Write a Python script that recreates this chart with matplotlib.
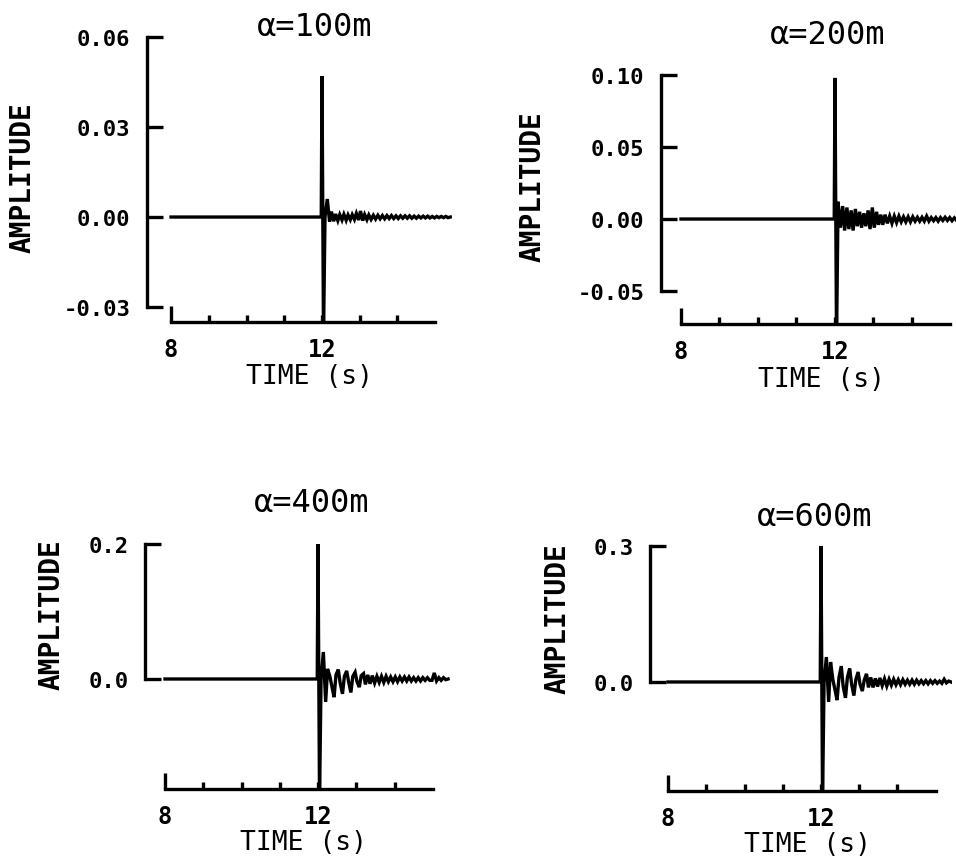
import matplotlib
matplotlib.use("Agg")
import matplotlib.pyplot as plt

# sample times shared by all four traces (s)
TIME = [8.00, 11.98, 12.00, 12.04, 12.08, 12.14, 12.20, 12.25, 12.31, 12.36,
        12.42, 12.47, 12.53, 12.58, 12.64, 12.69, 12.75, 12.80, 12.86, 12.91,
        12.97, 13.02, 13.08, 13.13, 13.19, 13.24, 13.30, 13.36, 13.42, 13.48,
        13.54, 13.60, 13.66, 13.72, 13.78, 13.84, 13.90, 13.96, 14.02, 14.08,
        14.14, 14.20, 14.26, 14.32, 14.38, 14.44, 14.50, 14.56, 14.62, 14.68,
        14.74, 14.80, 14.86, 14.92, 14.98, 15.04, 15.10, 15.16, 15.22, 15.28,
        15.34, 15.40]

AMP_100 = [0.0, 0.0, 0.047, -0.040, 0.0, 0.0060, -0.0015, 0.0018, -0.0014, 0.0010,
           -0.0012, 0.0008, -0.0010, 0.0009, -0.0011, 0.0007, -0.0009, 0.0008, -0.0008, 0.0012,
           -0.0010, 0.0020, -0.0012, 0.0008, -0.0009, 0.0007, -0.0008, 0.0006, -0.0007, 0.0006,
           -0.0006, 0.0005, -0.0006, 0.0005, -0.0005, 0.0005, -0.0005, 0.0004, -0.0005, 0.0004,
           -0.0004, 0.0004, -0.0004, 0.0004, -0.0004, 0.0003, -0.0004, 0.0003, -0.0003, 0.0003,
           -0.0003, 0.0003, -0.0003, 0.0002, -0.0003, 0.0002, -0.0002, 0.0002, -0.0002, 0.0002,
           -0.0002, 0.0]

AMP_200 = [0.0, 0.0, 0.098, -0.085, 0.012, -0.006, 0.009, -0.008, 0.008, -0.007,
           0.006, -0.008, 0.007, -0.005, 0.005, -0.006, 0.004, -0.005, 0.006, -0.007,
           0.008, -0.006, 0.005, -0.004, 0.003, -0.004, 0.003, -0.003, 0.002, -0.003,
           0.002, -0.0025, 0.002, -0.002, 0.0015, -0.002, 0.0015, -0.002, 0.0015, -0.0015,
           0.0012, -0.0015, 0.0012, -0.0015, 0.002, -0.0015, 0.001, -0.0012, 0.001, -0.0015,
           0.001, -0.001, 0.0012, -0.001, 0.001, -0.0012, 0.0008, -0.001, 0.002, -0.001,
           0.0008, -0.0005]

AMP_400 = [0.0, 0.0, 0.200, -0.180, 0.0, 0.040, -0.034, 0.015, 0.004, -0.010,
           -0.027, 0.006, 0.014, -0.006, -0.022, 0.004, 0.012, -0.004, -0.020, 0.004,
           0.010, -0.004, -0.012, 0.005, 0.008, -0.008, 0.006, -0.007, 0.005, -0.006,
           0.004, -0.005, 0.004, -0.005, 0.004, -0.004, 0.003, -0.004, 0.003, -0.004,
           0.003, -0.003, 0.003, -0.003, 0.003, -0.003, 0.002, -0.003, 0.002, -0.003,
           0.002, -0.002, 0.002, -0.002, -0.002, 0.009, -0.003, 0.002, -0.002, 0.002,
           -0.001, 0.0]

AMP_600 = [0.0, 0.0, 0.300, -0.260, 0.0, 0.055, -0.044, 0.044, 0.005, -0.015,
           -0.040, 0.010, 0.035, -0.010, -0.035, 0.010, 0.030, -0.005, -0.030, 0.005,
           0.022, -0.005, -0.020, 0.004, 0.018, -0.012, 0.010, -0.012, 0.008, -0.010,
           0.009, -0.008, 0.007, -0.009, 0.006, -0.007, 0.006, -0.006, 0.005, -0.006,
           0.005, -0.005, 0.004, -0.005, 0.004, -0.005, 0.004, -0.004, 0.003, -0.004,
           0.003, -0.004, 0.003, -0.003, 0.003, -0.003, 0.002, -0.003, 0.006, -0.002,
           0.002, 0.0]

TITLES = ["\u03b1=100m", "\u03b1=200m", "\u03b1=400m", "\u03b1=600m"]

YTICKS = [[-0.03, 0.0, 0.03, 0.06],
          [-0.05, 0.0, 0.05, 0.10],
          [0.0, 0.2],
          [0.0, 0.3]]
YTICK_LABELS = [["-0.03", "0.00", "0.03", "0.06"],
                ["-0.05", "0.00", "0.05", "0.10"],
                ["0.0", "0.2"],
                ["0.0", "0.3"]]
XTICKS_MAJOR = [8, 12]
XTICKS_MINOR = [9, 10, 11, 13, 14]
X_END = 15

W, H = 956, 862
MONO = "DejaVu Sans Mono"
LW = 2.4

# panel layout in pixels: (left, right, top, bottom), xlim, ylim
PANELS = [
    ((147, 452, 36, 323), (7.364, 15.444), (-0.0350, 0.0607)),
    ((661, 956, 73, 325), (7.481, 15.143), (-0.0729, 0.1021)),
    ((145, 450, 543, 790), (7.477, 15.451), (-0.163, 0.203)),
    ((650, 952, 545, 792), (7.529, 15.425), (-0.2405, 0.3044)),
]
TITLE_POS = [(315, 27), (828, 35), (312, 503), (815, 517)]
YLABEL_POS = [(23, 178), (533, 187), (52, 615), (558, 619)]
XLABEL_POS = [(310, 377), (821, 380), (304, 843), (808, 845)]


def px_rect(left, right, top, bottom):
    return [left / W, 1 - bottom / H, (right - left) / W, (bottom - top) / H]


def draw_panel(fig, i, amp):
    box, xlim, ylim = PANELS[i]
    ax = fig.add_axes(px_rect(*box))
    ax.patch.set_visible(False)
    ax.plot(TIME, amp, color="black", lw=LW, solid_joinstyle="miter")
    ax.set_xlim(*xlim)
    ax.set_ylim(*ylim)

    for side in ("top", "right"):
        ax.spines[side].set_visible(False)
    for side in ("left", "bottom"):
        ax.spines[side].set_linewidth(LW)
    ax.spines["left"].set_bounds(YTICKS[i][0], YTICKS[i][-1])
    ax.spines["bottom"].set_bounds(XTICKS_MAJOR[0], X_END)

    ax.set_yticks(YTICKS[i])
    ax.set_yticklabels(YTICK_LABELS[i], family=MONO, weight="bold", fontsize=16)
    ax.tick_params(axis="y", direction="in", length=11.5, width=LW, pad=12)

    ax.set_xticks(XTICKS_MAJOR)
    ax.set_xticklabels([str(v) for v in XTICKS_MAJOR], family=MONO,
                       weight="bold", fontsize=17)
    ax.set_xticks(XTICKS_MINOR, minor=True)
    ax.tick_params(axis="x", which="both", direction="in", length=5,
                   width=LW, pad=11)
    # the axis start mark at 8 s is drawn taller than the others
    ax.xaxis.get_major_ticks()[0].tick1line.set_markersize(11.5)

    tx, ty = TITLE_POS[i]
    fig.text(tx / W, 1 - ty / H, TITLES[i], family=MONO, fontsize=23,
             ha="center", va="center")
    lx, ly = YLABEL_POS[i]
    fig.text(lx / W, 1 - ly / H, "AMPLITUDE", family=MONO, weight="bold",
             fontsize=20, rotation=90, ha="center", va="center")
    bx, by = XLABEL_POS[i]
    fig.text(bx / W, 1 - by / H, "TIME (s)", family=MONO, fontsize=19,
             ha="center", va="center")
    return ax


def main():
    fig = plt.figure(figsize=(W / 100, H / 100), dpi=100)
    fig.patch.set_facecolor("white")
    for i, amp in enumerate([AMP_100, AMP_200, AMP_400, AMP_600]):
        draw_panel(fig, i, amp)
    fig.savefig("out.png", dpi=100, facecolor="white")
    plt.close(fig)


if __name__ == "__main__":
    main()
